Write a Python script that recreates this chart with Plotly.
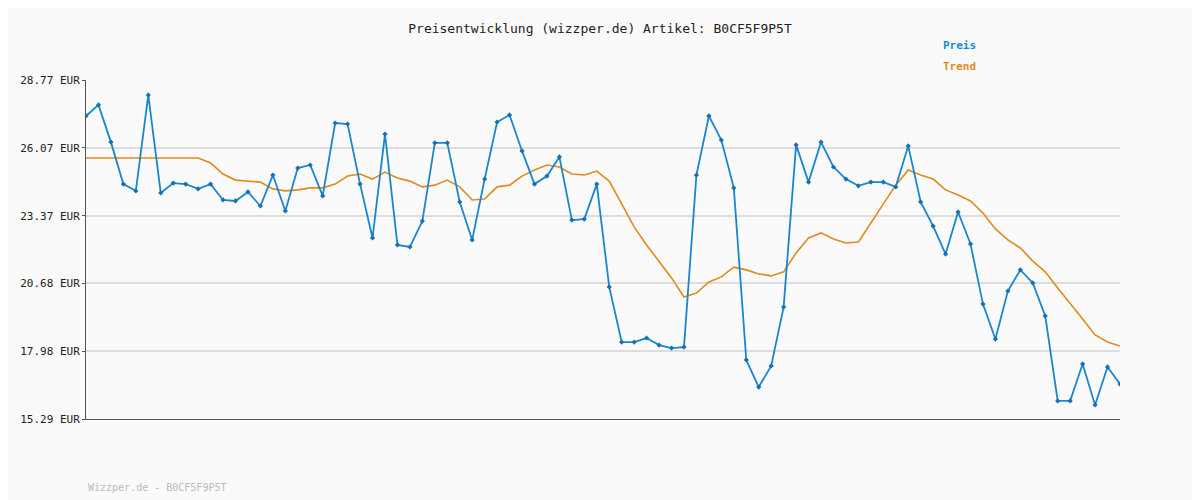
import plotly.graph_objects as go

preis = [27.34,27.78,26.30,24.63,24.36,28.17,24.28,24.67,24.63,24.44,24.63,24.00,23.96,24.32,23.76,24.99,23.56,25.27,25.39,24.16,
27.06,27.02,24.63,22.49,26.62,22.21,22.13,23.16,26.27,26.27,23.92,22.41,24.83,27.10,27.38,25.95,24.63,24.95,25.71,23.20,
23.24,24.63,20.54,18.35,18.35,18.51,18.23,18.11,18.15,24.99,27.34,26.38,24.48,17.64,16.56,17.40,19.74,26.19,24.71,26.30,
25.31,24.83,24.56,24.71,24.71,24.52,26.15,23.92,22.96,21.85,23.52,22.25,19.86,18.47,20.38,21.22,20.70,19.39,16.01,16.01,
17.48,15.85,17.36,16.68]
trend = [25.67]*10 + [25.47,25.03,24.79,24.75,24.71,24.44,24.36,24.40,24.48,24.48,24.63,24.95,25.03,24.83,25.11,24.87,24.75,
24.52,24.59,24.79,24.52,24.00,24.04,24.52,24.59,24.95,25.19,25.39,25.31,25.03,24.99,25.15,24.75,23.84,22.93,22.21,21.53,
20.90,20.14,20.30,20.74,20.94,21.33,21.22,21.06,20.98,21.14,21.89,22.49,22.69,22.45,22.29,22.33,23.08,23.88,24.59,25.19,
24.99,24.83,24.40,24.20,23.96,23.48,22.85,22.41,22.09,21.57,21.14,20.50,19.90,19.27,18.63,18.35,18.19]
ticks = [15.29, 17.98, 20.68, 23.37, 26.07, 28.77]
tick_labels = [f"{t:.2f} EUR" for t in ticks]

n = max(len(preis), len(trend))
fig = go.Figure()
fig.add_trace(go.Scatter(x=list(range(len(trend))), y=trend, mode="lines",
                         line=dict(color="#e08a1e", width=1.6), name="Trend"))
fig.add_trace(go.Scatter(x=list(range(len(preis))), y=preis, mode="lines+markers",
                         line=dict(color="#1a86d0", width=1.8),
                         marker=dict(symbol="diamond", size=4, color="#1a6fb0"), name="Preis"))
mono = "DejaVu Sans Mono"
fig.update_layout(
    width=1200, height=500, paper_bgcolor="#fafafa", plot_bgcolor="#fafafa",
    margin=dict(l=72, r=88, t=72, b=89), showlegend=False,
    font=dict(family=mono, size=11, color="#333"),
    title=dict(text="Preisentwicklung (wizzper.de) Artikel: B0CF5F9P5T", x=(600 - 8) / 1200, xanchor="center",
               y=0.96, yanchor="middle", font=dict(family=mono, size=13, color="#222")),
    xaxis=dict(range=[0, n - 1], showgrid=False, showticklabels=False, zeroline=False,
               showline=True, linecolor="#555", linewidth=1),
    yaxis=dict(range=[15.29, 28.77], tickvals=ticks, ticktext=tick_labels, showgrid=True,
               gridcolor="#dddddd", gridwidth=2, zeroline=False, ticks="outside", ticklen=3,
               tickcolor="#555", showline=True, linecolor="#555",
               tickfont=dict(family=mono, size=11, color="#222")),
)
fig.layout.annotations = [
    dict(text="<b>Preis</b>", x=(940 - 80) / 1040, y=(419 - 46) / 339, xref="paper", yref="paper",
         xanchor="left", yanchor="middle", showarrow=False, font=dict(family=mono, size=11, color="#1a86d0")),
    dict(text="<b>Trend</b>", x=(940 - 80) / 1040, y=(419 - 66) / 339, xref="paper", yref="paper",
         xanchor="left", yanchor="middle", showarrow=False, font=dict(family=mono, size=11, color="#e08a1e")),
    dict(text="Wizzper.de - B0CF5F9P5T", x=0, y=(419 - 487) / 339, xref="paper", yref="paper",
         xanchor="left", yanchor="middle", showarrow=False, font=dict(family=mono, size=10, color="#bbbbbb")),
]
fig.write_html("out.html")
